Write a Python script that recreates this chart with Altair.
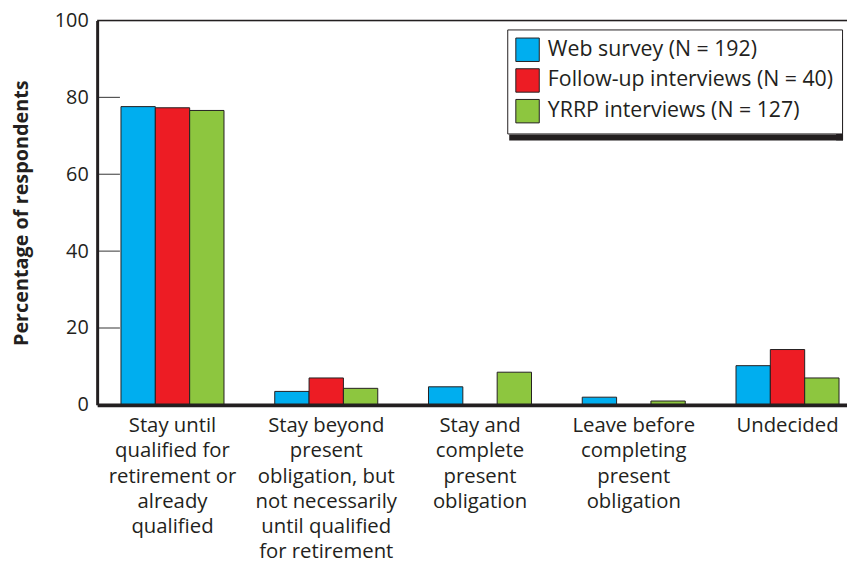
import altair as alt
import pandas as pd

categories = [
    "Stay until|qualified for|retirement or|already|qualified",
    "Stay beyond|present|obligation, but|not necessarily|until qualified|for retirement",
    "Stay and|complete|present|obligation",
    "Leave before|completing|present|obligation",
    "Undecided",
]
series = ["Web survey (N = 192)", "Follow-up interviews (N = 40)", "YRRP interviews (N = 127)"]
web = [77.6, 3.5, 4.7, 2.0, 10.2]
followup = [77.3, 7.0, 0.0, 0.0, 14.4]
yrrp = [76.6, 4.3, 8.5, 1.0, 7.0]
colors = ["#00AEEF", "#ED1C24", "#8DC63F"]
y_ticks = [0, 20, 40, 60, 80, 100]
inner_ticks = [20, 40, 60, 80]

rows = []
for s, vals in zip(series, [web, followup, yrrp]):
    for c, v in zip(categories, vals):
        if v > 0:
            rows.append({"category": c, "series": s, "value": v})
df = pd.DataFrame(rows)
tick_df = pd.DataFrame({"tick": inner_ticks})

FONT = "Open Sans"
INK = "#231f20"
W, H = 757, 388

bars = alt.Chart(df).mark_bar(stroke=INK, strokeWidth=1).encode(
    x=alt.X(
        "category:N",
        sort=categories,
        scale=alt.Scale(range=[0, 773], paddingInner=0.33, paddingOuter=0.155),
        axis=alt.Axis(
            title=None,
            labelExpr="split(datum.label, '|')",
            labelFontSize=20.5,
            labelFont=FONT,
            labelColor=INK,
            labelAngle=0,
            labelLineHeight=25.5,
            labelPadding=11,
            labelLimit=220,
            labelOverlap=False,
            labelBaseline="top",
            ticks=False,
            domainColor=INK,
            domainWidth=4,
            zindex=2,
        ),
    ),
    xOffset=alt.XOffset("series:N", sort=series),
    y=alt.Y(
        "value:Q",
        scale=alt.Scale(domain=[0, 100], nice=False),
        axis=alt.Axis(
            title="Percentage of respondents",
            titleFont=FONT,
            titleFontSize=20,
            titleFontWeight="bold",
            titleColor=INK,
            titlePadding=23,
            values=y_ticks,
            labelFont=FONT,
            labelFontSize=20,
            labelColor=INK,
            labelPadding=9,
            ticks=False,
            grid=False,
            domainColor=INK,
            domainWidth=3,
            zindex=2,
        ),
    ),
    color=alt.Color(
        "series:N",
        sort=series,
        scale=alt.Scale(domain=series, range=colors),
        legend=alt.Legend(
            title=None,
            orient="none",
            legendX=414,
            legendY=9,
            fillColor="white",
            strokeColor=INK,
            padding=8,
            symbolType="square",
            symbolSize=560,
            symbolStrokeColor=INK,
            symbolStrokeWidth=1,
            symbolOpacity=1,
            labelFont=FONT,
            labelFontSize=21.5,
            labelColor=INK,
            labelOffset=8,
            labelLimit=400,
            rowPadding=2,
            zindex=3,
        ),
    ),
)

shadow_right = alt.Chart(pd.DataFrame({"s": [0]})).mark_rule(color=INK, strokeWidth=7).encode(
    x=alt.value(749.5), y=alt.value(18), y2=alt.value(121)
)
shadow_bottom = alt.Chart(pd.DataFrame({"s": [0]})).mark_rule(color=INK, strokeWidth=6).encode(
    x=alt.value(416), x2=alt.value(753), y=alt.value(118)
)

inner = alt.Chart(tick_df).mark_rule(color="#555555", strokeWidth=1.2).encode(
    y=alt.Y("tick:Q"),
    x=alt.value(0),
    x2=alt.value(23),
)

top = alt.Chart(pd.DataFrame({"t": [100]})).mark_rule(color=INK, strokeWidth=1.5).encode(
    y=alt.Y("t:Q"),
)

chart = alt.layer(bars, inner, top, shadow_right, shadow_bottom).properties(
    width=W,
    height=H,
    autosize=alt.AutoSizeParams(type="none"),
    padding={"left": 90, "top": 10, "right": 0, "bottom": 158},
).configure_view(stroke=None).configure(background="white")

chart.save("out.html", embed_options={"renderer": "svg", "actions": False})
